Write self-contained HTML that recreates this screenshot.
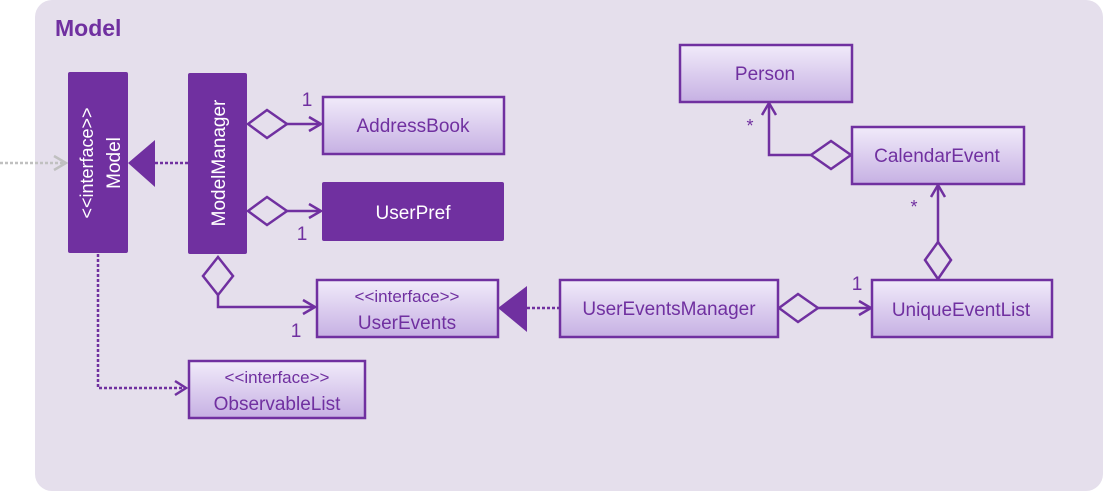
<!DOCTYPE html>
<html><head><meta charset="utf-8"><style>
html,body{margin:0;padding:0;background:#fff;}
svg{display:block;}
text{font-family:"Liberation Sans",sans-serif;}
</style></head><body>
<svg width="1104" height="492" viewBox="0 0 1104 492" xmlns="http://www.w3.org/2000/svg">
<defs>
<linearGradient id="g" x1="0" y1="0" x2="0" y2="1">
<stop offset="0" stop-color="#f1ebfa"/><stop offset="1" stop-color="#c6b0e3"/>
</linearGradient>
</defs>
<rect x="35" y="0" width="1068" height="491" rx="17" fill="#e5dfec"/>
<text x="55" y="36" font-size="23" font-weight="bold" fill="#7030a0">Model</text>

<g stroke="#7030a0" stroke-width="2.5" fill="none">
<line x1="0" y1="163" x2="66" y2="163" stroke="#c0c0c0" stroke-dasharray="3,2"/>
<polyline points="54,156 66,163 54,170" stroke="#c0c0c0"/>
<line x1="155" y1="163" x2="188" y2="163" stroke-dasharray="3,2"/>
<polyline points="98,254 98,388 186,388" stroke-dasharray="3,2"/>
<polyline points="175,381 186,388 175,395"/>
<line x1="287" y1="124" x2="321" y2="124"/>
<polyline points="309,117 321,124 309,131"/>
<line x1="287" y1="211" x2="321" y2="211"/>
<polyline points="309,204 321,211 309,218"/>
<polyline points="218,295 218,307 315,307"/>
<polyline points="303,300 315,307 303,314"/>
<line x1="527" y1="308" x2="560" y2="308" stroke-dasharray="3,2"/>
<line x1="818" y1="308" x2="871" y2="308"/>
<polyline points="859,301 871,308 859,315"/>
<polyline points="811,155 769,155 769,103"/>
<polyline points="762,115 769,103 776,115"/>
<line x1="938" y1="242" x2="938" y2="185"/>
<polyline points="931,197 938,185 945,197"/>
<polygon points="248,124 267,110 287,124 267,138" fill="#e5dfec"/>
<polygon points="248,211 267,197 287,211 267,225" fill="#e5dfec"/>
<polygon points="218,257 233,276 218,295 203,276" fill="#e5dfec"/>
<polygon points="779,308 798,294 818,308 798,322" fill="#e5dfec"/>
<polygon points="811,155 831,141 851,155 831,169" fill="#e5dfec"/>
<polygon points="938,242 951,260 938,279 925,260" fill="#e5dfec"/>
</g>
<polygon points="128,163 155,140 155,187" fill="#7030a0"/>
<polygon points="498,308 527,286 527,332" fill="#7030a0"/>

<rect x="68" y="72" width="60" height="181" rx="2" fill="#7030a0"/>
<rect x="188" y="73" width="59" height="181" rx="2" fill="#7030a0"/>
<rect x="322" y="182" width="182" height="59" rx="2" fill="#7030a0"/>
<text transform="translate(93,163) rotate(-90)" text-anchor="middle" font-size="18" fill="#fff">&lt;&lt;interface&gt;&gt;</text>
<text transform="translate(120,163) rotate(-90)" text-anchor="middle" font-size="19" fill="#fff">Model</text>
<text transform="translate(225,163) rotate(-90)" text-anchor="middle" font-size="19" fill="#fff">ModelManager</text>
<text x="413" y="219" text-anchor="middle" font-size="19" fill="#fff">UserPref</text>

<g stroke="#7030a0" stroke-width="2.5" fill="url(#g)">
<rect x="323" y="97" width="181" height="57"/>
<rect x="317" y="280" width="181" height="57"/>
<rect x="189" y="361" width="176" height="57"/>
<rect x="680" y="45" width="172" height="57"/>
<rect x="852" y="127" width="172" height="57"/>
<rect x="560" y="280" width="218" height="57"/>
<rect x="872" y="280" width="180" height="57"/>
</g>
<g fill="#7030a0" font-size="19" text-anchor="middle">
<text x="413" y="132">AddressBook</text>
<text x="407" y="302" font-size="17">&lt;&lt;interface&gt;&gt;</text>
<text x="407" y="329">UserEvents</text>
<text x="277" y="383" font-size="17">&lt;&lt;interface&gt;&gt;</text>
<text x="277" y="410">ObservableList</text>
<text x="765" y="80">Person</text>
<text x="937" y="162">CalendarEvent</text>
<text x="669" y="315">UserEventsManager</text>
<text x="961" y="316">UniqueEventList</text>
<text x="307" y="106" font-size="19">1</text>
<text x="302" y="240" font-size="19">1</text>
<text x="296" y="337" font-size="19">1</text>
<text x="857" y="290" font-size="19">1</text>
<text x="750" y="132" font-size="18">*</text>
<text x="914" y="213" font-size="18">*</text>
</g>
</svg>
</body></html>
